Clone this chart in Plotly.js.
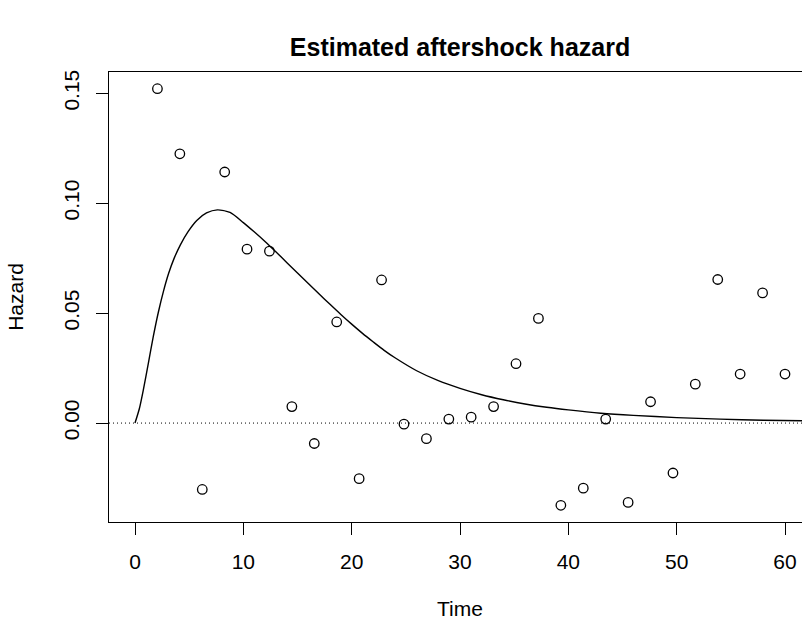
<!DOCTYPE html>
<html>
<head>
<meta charset="utf-8">
<script src="https://cdn.plot.ly/plotly-3.0.1.min.js"></script>
<style>
html, body { margin: 0; padding: 0; overflow: hidden; background: #fff; }
#chart { width: 820px; height: 624px; }
</style>
</head>
<body>
<div id="chart"></div>
<script>
// Observed hazard points
const obsTime = [2.07, 4.14, 6.21, 8.28, 10.34, 12.41, 14.48, 16.55, 18.62, 20.69,
                 22.76, 24.83, 26.90, 28.97, 31.03, 33.10, 35.17, 37.24, 39.31, 41.38,
                 43.45, 45.52, 47.59, 49.66, 51.72, 53.79, 55.86, 57.93, 60.00];
const obsHazard = [0.1521, 0.1225, -0.0302, 0.1142, 0.0791, 0.0782, 0.0075, -0.0093, 0.0460, -0.0253,
                   0.0651, -0.0005, -0.0071, 0.0018, 0.0027, 0.0075, 0.0270, 0.0476, -0.0374, -0.0296,
                   0.0018, -0.0361, 0.0097, -0.0227, 0.0177, 0.0653, 0.0223, 0.0592, 0.0223];

// Estimated (fitted) hazard curve
const fitTime = [0, 0.4, 0.77, 1.23, 1.69, 2.15, 2.62, 3.1, 3.6, 4.2, 4.9, 5.7, 6.6, 7.6, 8.77,
                 10, 11, 12, 13, 14, 15, 16, 17, 18, 19, 20, 21, 22, 23, 24, 26, 28, 30, 32, 34,
                 36, 38, 40, 43, 46, 50, 54, 58, 62.4];
const fitHazard = [0, 0.0065, 0.0151, 0.0272, 0.0394, 0.0503, 0.0598, 0.0680, 0.0748, 0.0812, 0.0871,
                   0.0922, 0.0956, 0.0970, 0.0958, 0.0912, 0.0870, 0.0826, 0.0779, 0.0731, 0.0683,
                   0.0635, 0.0587, 0.0540, 0.0494, 0.0450, 0.0408, 0.0369, 0.0331, 0.0297, 0.0238,
                   0.0193, 0.0158, 0.0129, 0.0106, 0.0087, 0.0072, 0.0060, 0.0045, 0.0035, 0.0025,
                   0.0018, 0.0013, 0.0010];

const xTicks = [0, 10, 20, 30, 40, 50, 60];
const yTicks = [0.00, 0.05, 0.10, 0.15];
const yTickText = ["0.00", "0.05", "0.10", "0.15"];

const FONT = "Liberation Sans, Arial, Helvetica, sans-serif";

const traces = [
  {
    x: fitTime, y: fitHazard, type: "scatter", mode: "lines",
    line: { color: "#000", width: 1.4, shape: "spline", smoothing: 0.7 }, hoverinfo: "skip"
  },
  {
    x: obsTime, y: obsHazard, type: "scatter", mode: "markers",
    marker: { symbol: "circle-open", size: 9.5, color: "#000", line: { color: "#000", width: 1.3 } }
  }
];

const layout = {
  width: 820, height: 624,
  margin: { l: 109, r: 9, t: 72, b: 102 },
  paper_bgcolor: "#fff", plot_bgcolor: "#fff",
  showlegend: false,
  font: { family: FONT, color: "#000", size: 21 },
  title: {
    text: "<b>Estimated aftershock hazard</b>",
    font: { family: FONT, size: 25, color: "#000" },
    x: 0.5, xref: "paper", xanchor: "center", y: 0.925, yanchor: "middle"
  },
  xaxis: {
    range: [-2.4, 62.4], tickvals: xTicks, ticktext: xTicks.map(String),
    ticks: "outside", ticklen: 12, tickwidth: 1, tickcolor: "#000",
    showline: true, linecolor: "#000", linewidth: 1, mirror: true,
    showgrid: false, zeroline: false,
    tickfont: { family: FONT, size: 21, color: "#000" },
    ticklabelstandoff: 9,
    title: { text: "Time", font: { family: FONT, size: 21, color: "#000" }, standoff: 29 }
  },
  yaxis: {
    range: [-0.0450, 0.1597], tickvals: yTicks, ticktext: yTickText,
    ticks: "outside", ticklen: 12, tickwidth: 1, tickcolor: "#000",
    showline: true, linecolor: "#000", linewidth: 1, mirror: true,
    showgrid: false, zeroline: false, tickangle: -90,
    tickfont: { family: FONT, size: 21, color: "#000" },
    ticklabelstandoff: 9,
    title: { text: "Hazard", font: { family: FONT, size: 21, color: "#000" }, standoff: 30 }
  },
  shapes: [
    { type: "line", xref: "paper", x0: 0, x1: 1, yref: "y", y0: 0, y1: 0,
      line: { color: "#000", width: 1, dash: "1px,3px" }, layer: "below" }
  ]
};

Plotly.newPlot("chart", traces, layout, { staticPlot: true, displayModeBar: false });
</script>
</body>
</html>
